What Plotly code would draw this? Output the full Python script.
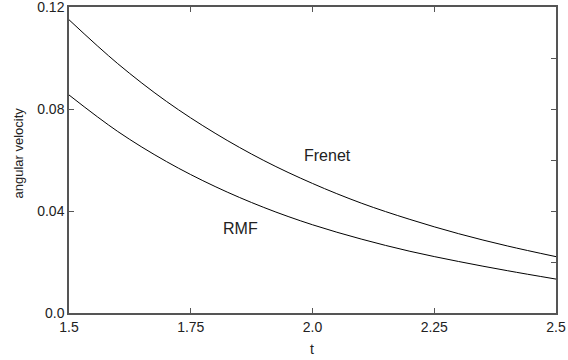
import plotly.graph_objects as go

t_vals = [1.5, 1.6, 1.7, 1.8, 1.9, 2.0, 2.1, 2.2, 2.3, 2.4, 2.5]
frenet = [0.115, 0.0978, 0.0830, 0.0705, 0.0598, 0.0508, 0.0431, 0.0367, 0.0311, 0.0263, 0.0221]
rmf = [0.0855, 0.0712, 0.0594, 0.0496, 0.0414, 0.0346, 0.0290, 0.0242, 0.0202, 0.0166, 0.0133]

x_ticks = [1.5, 1.75, 2.0, 2.25, 2.5]
x_ticktext = ["1.5", "1.75", "2.0", "2.25", "2.5"]
y_ticks = [0.0, 0.04, 0.08, 0.12]
y_ticktext = ["0.0", "0.04", "0.08", "0.12"]
y_minor_ticks = [0.0, 0.02, 0.04, 0.06, 0.08, 0.10, 0.12]

labels = [("Frenet", 2.03, 0.0616), ("RMF", 1.853, 0.033)]

font = "Liberation Sans, Arial, sans-serif"
axis_color = "#555555"
text_color = "#222222"

W, H = 568, 360
L, R, T, B = 69, 12, 7, 47

fig = go.Figure()
fig.add_trace(go.Scatter(x=t_vals, y=frenet, mode="lines", line=dict(color="black", width=1, shape="spline"),
                         showlegend=False, hoverinfo="skip"))
fig.add_trace(go.Scatter(x=t_vals, y=rmf, mode="lines", line=dict(color="black", width=1, shape="spline"),
                         showlegend=False, hoverinfo="skip"))
fig.add_trace(go.Scatter(x=[t_vals[0]], y=[frenet[0]], xaxis="x2", yaxis="y2", mode="markers",
                         marker=dict(opacity=0), showlegend=False, hoverinfo="skip"))

for txt, x, y in labels:
    fig.add_annotation(x=x, y=y, text=txt, showarrow=False,
                       font=dict(family=font, size=16, color=text_color))

pw = W - L - R
ph = H - T - B
# axis titles placed in paper coordinates
fig.add_annotation(xref="paper", yref="paper", x=(312 - L) / pw, y=-(349 - (H - B)) / ph,
                   text="t", showarrow=False, font=dict(family=font, size=14, color=text_color),
                   xanchor="center", yanchor="middle")
fig.add_annotation(xref="paper", yref="paper", x=-(L - 18) / pw, y=((H - B) - 153.5) / ph,
                   text="angular velocity", textangle=-90, showarrow=False,
                   font=dict(family=font, size=13, color=text_color),
                   xanchor="center", yanchor="middle")

tick_common = dict(ticks="inside", ticklen=5, tickcolor=axis_color, tickwidth=1,
                   showline=True, linecolor=axis_color, linewidth=1.5,
                   showgrid=False, zeroline=False, automargin=False)

fig.update_layout(
    width=W, height=H,
    margin=dict(l=L, r=R, t=T, b=B, autoexpand=False),
    plot_bgcolor="white", paper_bgcolor="white",
    font=dict(family=font, size=14, color=text_color),
    xaxis=dict(range=[1.5, 2.5], tickvals=x_ticks, ticktext=x_ticktext,
               ticklabeloverflow="allow", **tick_common),
    xaxis2=dict(range=[1.5, 2.5], tickvals=x_ticks, overlaying="x", side="top",
                showticklabels=False, **tick_common),
    yaxis=dict(range=[0, 0.12], tickvals=y_ticks, ticktext=y_ticktext,
               ticklabeloverflow="allow", **tick_common),
    yaxis2=dict(range=[0, 0.12], tickvals=y_minor_ticks, overlaying="y", side="right",
                showticklabels=False, **tick_common),
)

fig.write_html("out.html", config={"displayModeBar": False},
               post_script="document.body.style.margin='0';document.body.style.overflow='hidden';")
